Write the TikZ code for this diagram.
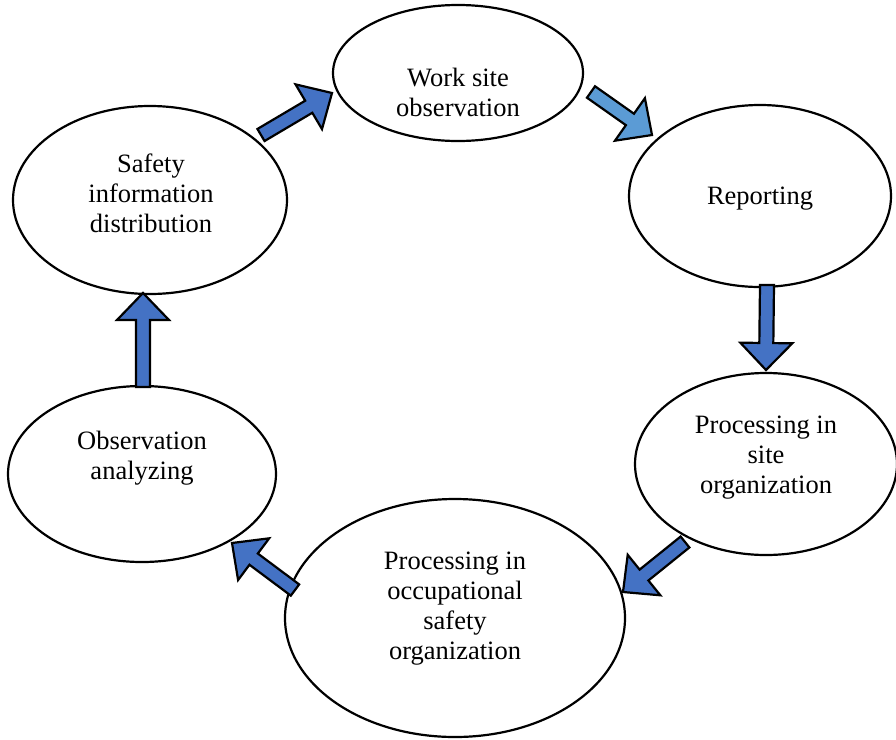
\documentclass[tikz,border=0pt]{standalone}
\usepackage{fontspec}
\setmainfont{Liberation Serif}
\usetikzlibrary{shapes.geometric,calc}
\definecolor{arrowblue}{HTML}{4472C4}
\definecolor{arrowlight}{HTML}{5B9BD5}
\tikzset{
  oval/.style={ellipse, draw=black, line width=2.2pt, fill=white, inner sep=0pt},
  label text/.style={align=center, font=\fontsize{26.5}{30}\selectfont, text=black, inner sep=0pt},
  blockline/.style={draw=black, line width=2.2pt, line join=miter}
}
\newcommand\blockarrow[4]{% fill colour, tail, tip, id
  \coordinate (#4base) at ($(#3)!27pt!(#2)$);
  \filldraw[fill=#1, blockline]
    ($(#2)!7pt!90:(#3)$) -- ($(#4base)!7pt!-90:(#2)$) -- ($(#4base)!26pt!-90:(#2)$)
    -- (#3) -- ($(#4base)!26pt!90:(#2)$) -- ($(#4base)!7pt!90:(#2)$)
    -- ($(#2)!7pt!-90:(#3)$) -- cycle;
}
\begin{document}
\begin{tikzpicture}[x=1pt, y=-1pt]
\useasboundingbox[fill=white] (0,0) rectangle (896,739);
% ellipses
\node[oval, minimum width=250pt, minimum height=136pt] (work) at (458,73) {};
\node[oval, minimum width=262pt, minimum height=182pt] (rep) at (760,196) {};
\node[oval, minimum width=262pt, minimum height=182pt] (site) at (766,464) {};
\node[oval, minimum width=340pt, minimum height=238pt] (occ) at (455,618) {};
\node[oval, minimum width=268pt, minimum height=176pt] (ana) at (142,474) {};
\node[oval, minimum width=274pt, minimum height=188pt] (saf) at (150,200) {};
% texts
\node[label text] (t1) at (458,92) {Work site\\observation};
\node[label text] (t2) at (760,199) {Reporting};
\node[label text] (t3) at (766,458) {Processing in\\site\\organization};
\node[label text] (t4) at (455,609) {Processing in\\occupational\\safety\\organization};
\node[label text] (t5) at (142,458) {Observation\\analyzing};
\node[label text] (t6) at (151,193) {Safety\\information\\distribution};
% arrow ends
\coordinate (aT) at (261,135); \coordinate (aH) at (332,93);
\coordinate (bT) at (591,92);  \coordinate (bH) at (652,135);
\coordinate (cT) at (767,285); \coordinate (cH) at (766,370);
\coordinate (dT) at (685,542); \coordinate (dH) at (623,592);
\coordinate (eT) at (295,590); \coordinate (eH) at (232,543);
\coordinate (fT) at (143,387); \coordinate (fH) at (143,293);
\blockarrow{arrowblue}{aT}{aH}{a}
\blockarrow{arrowlight}{bT}{bH}{b}
\blockarrow{arrowblue}{cT}{cH}{c}
\blockarrow{arrowblue}{dT}{dH}{d}
\blockarrow{arrowblue}{eT}{eH}{e}
\blockarrow{arrowblue}{fT}{fH}{f}
\end{tikzpicture}
\end{document}
